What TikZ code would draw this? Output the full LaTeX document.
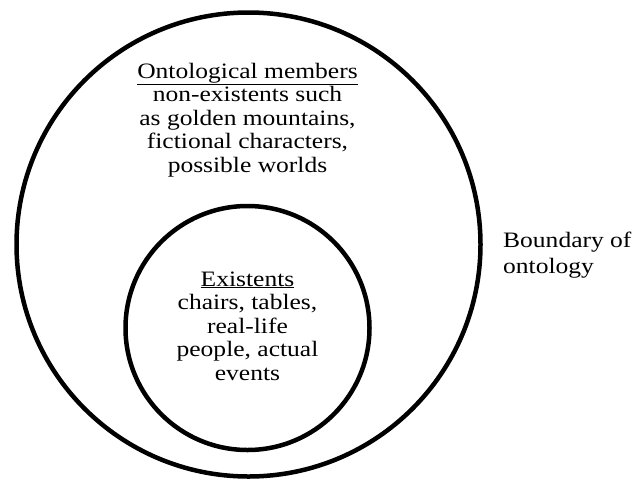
\documentclass[tikz,border=0pt]{standalone}
\usepackage{fontspec}
\setmainfont[FakeStretch=1.16]{Liberation Serif}
\usetikzlibrary{positioning}

\tikzset{
  ring/.style={circle, draw, line width=4.5pt, inner sep=0pt},
  blurb/.style={align=center, inner sep=0pt, font=\fontsize{22}{23.5}\selectfont},
}

\begin{document}
\begin{tikzpicture}[x=1pt, y=-1pt]
  \useasboundingbox (0,0) rectangle (632,480);
  % the two rings
  \node (ontology) [ring, minimum size=464pt] at (248.5,244.5) {};
  \node (existents) [ring, minimum size=244pt] at (247.5,328) {};
  % texts (base = last line)
  \node (members) [blurb, anchor=base] at (247.5,172)
    {\underline{Ontological members}\\ non-existents such\\ as golden mountains,\\ fictional characters,\\ possible worlds};
  \node (real) [blurb, anchor=base] at (247.5,380)
    {\underline{Existents}\\ chairs, tables,\\ real-life\\ people, actual\\ events};
  \node (boundary) [blurb, align=left, anchor=base west, font=\fontsize{22}{26}\selectfont] at (503,273)
    {Boundary of\\ ontology};
\end{tikzpicture}
\end{document}
